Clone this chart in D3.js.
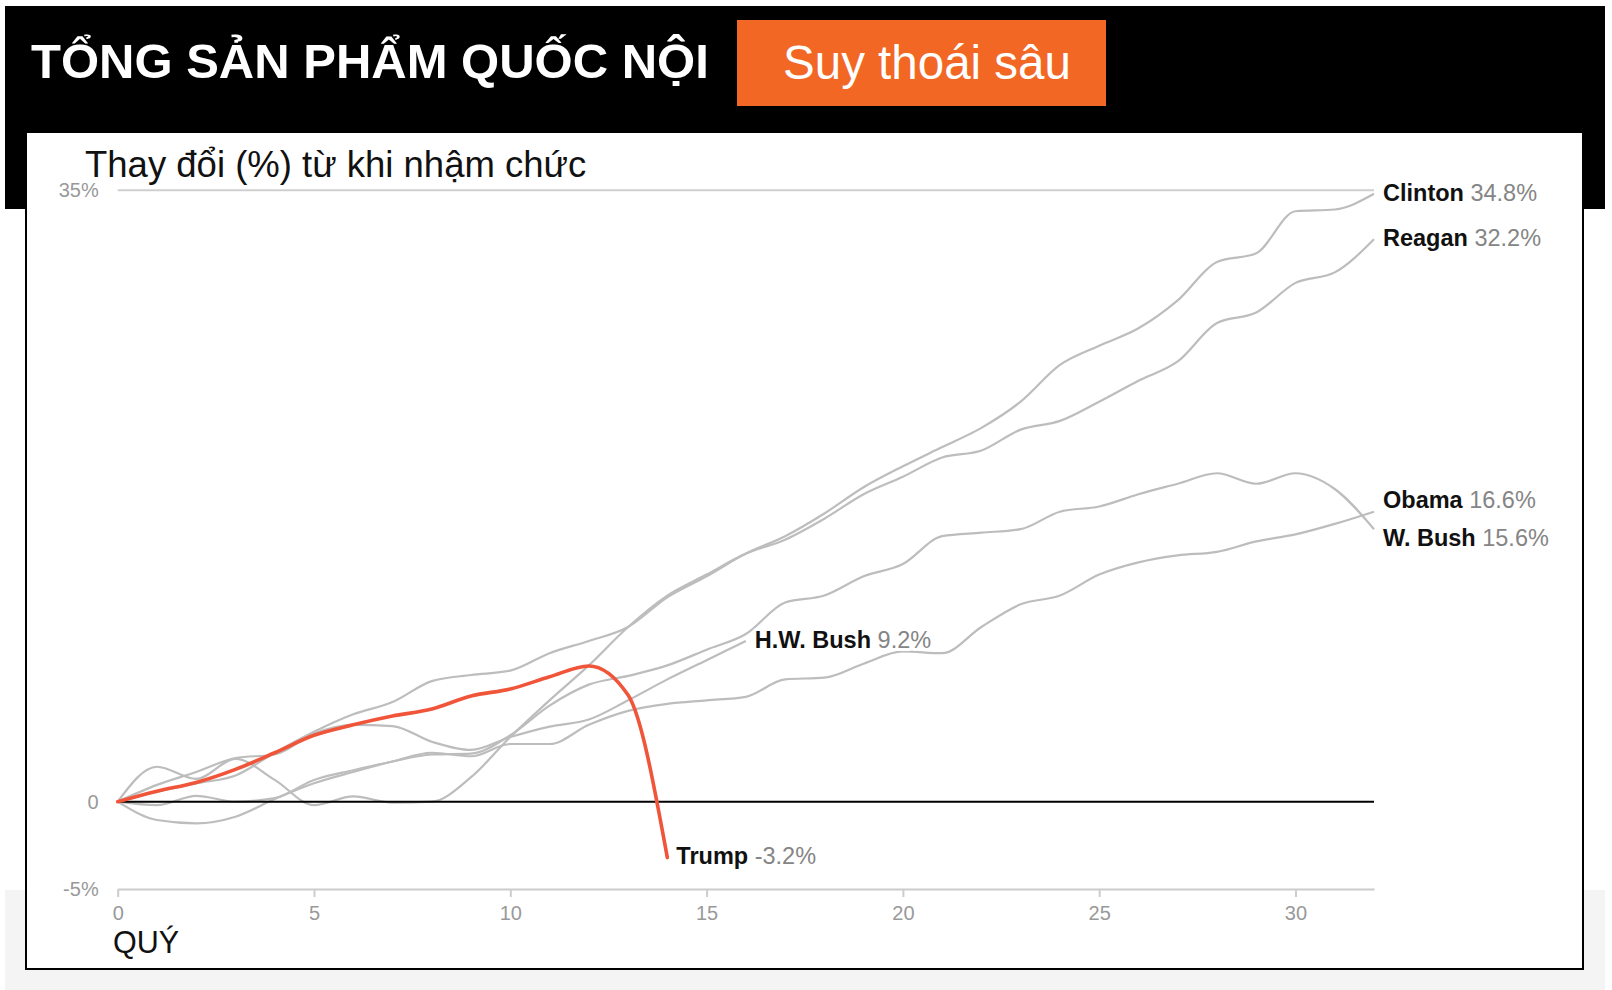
<!DOCTYPE html>
<html><head><meta charset="utf-8">
<script src="https://cdn.jsdelivr.net/npm/d3@7"></script>
<style>
body{margin:0;background:#fff;}
svg{display:block;}
text{font-family:"Liberation Sans", Arial, Helvetica, sans-serif;}
</style>
</head><body>
<svg id="chart" width="1612" height="990"></svg>
<script>
// ---- data (percent change in real GDP since taking office, by quarter) ----
const reagan  = [0, 2.0, 1.3, 2.45, 1.25, -0.2, 0.3, -0.05, 0.0, 1.4, 3.7, 5.8, 7.8, 10.0, 11.8, 13.0, 14.2, 15.0, 16.2, 17.6, 18.6, 19.7, 20.1, 21.3, 21.8, 22.9, 24.1, 25.2, 27.4, 28.0, 29.7, 30.3, 32.2];
const hwBush  = [0, 0.96, 1.7, 2.5, 2.7, 3.9, 4.4, 4.33, 3.43, 2.96, 3.7, 4.3, 4.7, 5.8, 7.0, 8.1, 9.2];
const clinton = [0, 0.57, 1.05, 1.5, 2.8, 4.0, 5.0, 5.7, 6.9, 7.25, 7.5, 8.5, 9.2, 10.0, 11.7, 12.9, 14.2, 15.2, 16.5, 18.0, 19.2, 20.3, 21.4, 22.9, 25.0, 26.1, 27.1, 28.7, 30.9, 31.4, 33.8, 33.9, 34.8];
const wBush   = [0, -0.2, 0.33, 0, 0.2, 1.24, 1.8, 2.3, 2.7, 2.75, 3.8, 5.5, 6.7, 7.2, 7.8, 8.7, 9.6, 11.4, 11.8, 12.9, 13.6, 15.2, 15.4, 15.6, 16.6, 16.9, 17.6, 18.2, 18.8, 18.2, 18.8, 17.9, 15.6];
const obama   = [0, -1.05, -1.24, -0.86, 0.15, 1.05, 1.7, 2.3, 2.8, 2.6, 3.3, 3.3, 4.4, 5.2, 5.6, 5.8, 6.0, 7.0, 7.1, 7.9, 8.6, 8.5, 10.0, 11.3, 11.8, 13.0, 13.7, 14.1, 14.3, 14.9, 15.3, 15.9, 16.6];
const trump   = [0, 0.6, 1.1, 1.85, 2.8, 3.8, 4.4, 4.9, 5.3, 6.05, 6.45, 7.15, 7.77, 6.1, -3.2];

const seriesNames  = ["Reagan", "H.W. Bush", "Clinton", "W. Bush", "Obama", "Trump"];
const seriesValues = [reagan, hwBush, clinton, wBush, obama, trump];
const valueLabels  = ["32.2%", "9.2%", "34.8%", "15.6%", "16.6%", "-3.2%"];

const xTicks = [0, 5, 10, 15, 20, 25, 30];
const yTicks = [-5, 0, 35];
const yTickLabels = ["-5%", "0", "35%"];

const titleText = "TỔNG SẢN PHẨM QUỐC NỘI";
const badgeText = "Suy thoái sâu";
const subtitleText = "Thay đổi (%) từ khi nhậm chức";
const xAxisTitle = "QUÝ";

// ---- layout ----
const svg = d3.select("#chart");

// background blocks
svg.append("rect").attr("x", 5).attr("y", 890).attr("width", 1600).attr("height", 100).attr("fill", "#f4f4f4");
svg.append("rect").attr("x", 5).attr("y", 6).attr("width", 1600).attr("height", 203).attr("fill", "#000");
svg.append("rect").attr("x", 26).attr("y", 132).attr("width", 1557).attr("height", 837)
  .attr("fill", "#fff").attr("stroke", "#000").attr("stroke-width", 2);

// header
svg.append("text").attr("x", 31).attr("y", 78).attr("fill", "#fff")
  .attr("font-size", 49).attr("font-weight", "bold").text(titleText);
svg.append("rect").attr("x", 737).attr("y", 20).attr("width", 369).attr("height", 86).attr("fill", "#f26724");
svg.append("text").attr("x", 927).attr("y", 79).attr("fill", "#fff").attr("text-anchor", "middle")
  .attr("font-size", 47.5).text(badgeText);

// subtitle
svg.append("text").attr("x", 85).attr("y", 177).attr("fill", "#111")
  .attr("font-size", 36.5).text(subtitleText);

// scales
const x = d3.scaleLinear().domain([0, 32]).range([117.7, 1374]);
const y = d3.scaleLinear().domain([-5, 35]).range([889, 190.3]);

// 35% gridline
svg.append("line").attr("x1", x(0)).attr("x2", x(32)).attr("y1", y(35)).attr("y2", y(35))
  .attr("stroke", "#cfcfcf").attr("stroke-width", 2);

// x axis
const xAxis = svg.append("g").attr("transform", `translate(0,${y(-5)})`)
  .call(d3.axisBottom(x).tickValues(xTicks).tickSize(8).tickSizeOuter(0).tickPadding(9));
xAxis.select(".domain").attr("stroke", "#cccccc").attr("stroke-width", 2);
xAxis.selectAll(".tick line").attr("stroke", "#cccccc").attr("stroke-width", 2);
xAxis.selectAll(".tick text").attr("fill", "#999").attr("font-size", 20)
  .attr("font-family", '"Liberation Sans", Arial, sans-serif');

// y axis labels
const yAxis = svg.append("g").attr("transform", `translate(${x(0)},0)`)
  .call(d3.axisLeft(y).tickValues(yTicks).tickSize(0).tickPadding(19)
    .tickFormat((d, i) => yTickLabels[i]));
yAxis.select(".domain").remove();
yAxis.selectAll(".tick text").attr("fill", "#999").attr("font-size", 20)
  .attr("font-family", '"Liberation Sans", Arial, sans-serif');

// x axis title
svg.append("text").attr("x", 113).attr("y", 953).attr("fill", "#111")
  .attr("font-size", 30.5).text(xAxisTitle);

// lines
const line = d3.line().x((d, i) => x(i)).y(d => y(d)).curve(d3.curveMonotoneX);
const gLines = svg.append("g");
seriesValues.forEach((vals, k) => {
  if (seriesNames[k] === "Trump") return;
  gLines.append("path").attr("d", line(vals)).attr("fill", "none")
    .attr("stroke", "#bdbdbd").attr("stroke-width", 2.2).attr("stroke-linejoin", "round");
});

// zero line
svg.append("line").attr("x1", x(0)).attr("x2", x(32)).attr("y1", y(0)).attr("y2", y(0))
  .attr("stroke", "#000").attr("stroke-width", 2);

// Trump line
svg.append("path").attr("d", line(trump)).attr("fill", "none")
  .attr("stroke", "#f0553a").attr("stroke-width", 3.6).attr("stroke-linejoin", "round").attr("stroke-linecap", "round");

// labels with simple collision avoidance
const labels = seriesValues.map((vals, k) => {
  const last = vals.length - 1;
  return { name: seriesNames[k], value: valueLabels[k], lx: x(last) + 9, ly: y(vals[last]) };
});
const minGap = 38;
for (let iter = 0; iter < 50; iter++) {
  for (let a = 0; a < labels.length; a++) for (let b = a + 1; b < labels.length; b++) {
    const A = labels[a], B = labels[b];
    if (Math.abs(A.lx - B.lx) > 1) continue;
    const d = B.ly - A.ly;
    if (Math.abs(d) < minGap) {
      const push = (minGap - Math.abs(d)) / 2 * (d >= 0 ? 1 : -1);
      A.ly -= push; B.ly += push;
    }
  }
}
const gLab = svg.append("g");
labels.forEach(L => {
  const t = gLab.append("text").attr("x", L.lx).attr("y", L.ly).attr("dy", "0.29em")
    .attr("font-size", 23.5)
    .attr("stroke", "#fff").attr("stroke-width", 6).attr("stroke-linejoin", "round")
    .attr("paint-order", "stroke");
  t.append("tspan").attr("fill", "#111").attr("font-weight", "bold").text(L.name);
  t.append("tspan").attr("fill", "#858585").text(" " + L.value);
});
</script>
</body></html>
